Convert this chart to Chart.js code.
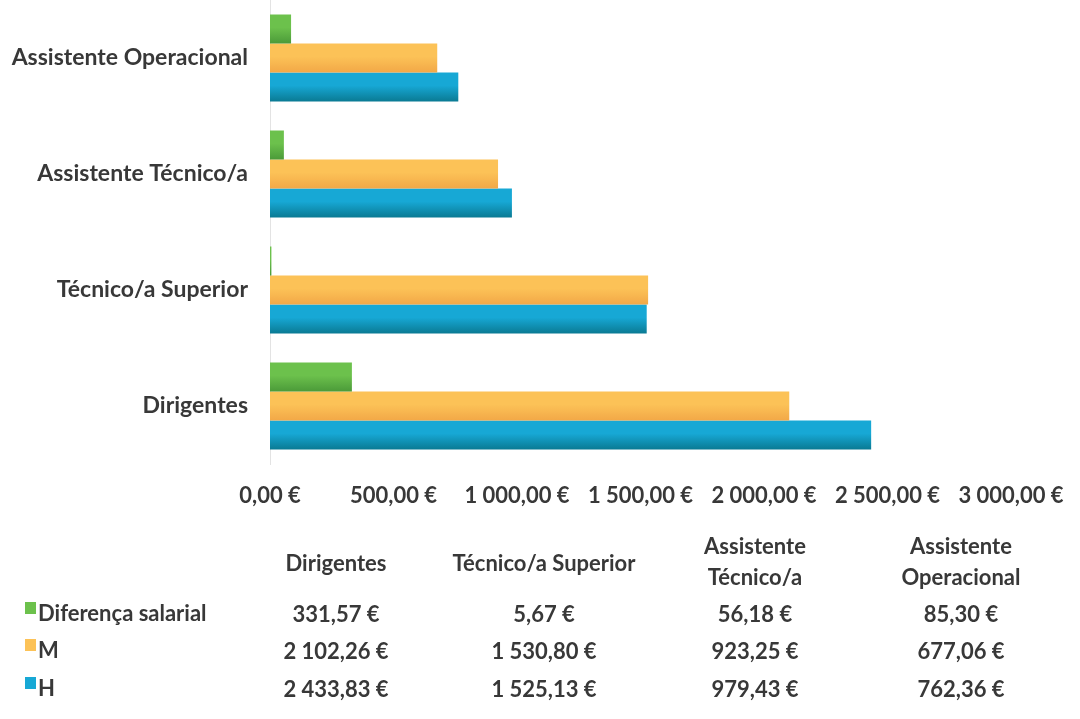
<!DOCTYPE html>
<html lang="pt">
<head>
<meta charset="utf-8">
<title>Remuneração média por carreira</title>
<script src="https://cdn.jsdelivr.net/npm/chart.js@4.4.1/dist/chart.umd.min.js"></script>
<style>
  body { margin: 0; background: #fff; font-family: Lato, "Open Sans", sans-serif; }
  #wrap { position: relative; width: 1080px; height: 719px; }
  #grafico { position: absolute; left: 0; top: 0; }
  #tabela { position: absolute; left: 0; top: 0; width: 1080px; height: 719px; }
  .cel { position: absolute; width: 240px; text-align: center; font-weight: bold;
         font-size: 22px; color: #383838; line-height: 31px; white-space: nowrap; }
  .leg { position: absolute; left: 25px; height: 30px; font-weight: bold; font-size: 22px;
         color: #383838; line-height: 30px; white-space: nowrap; padding-left: 13px; }
  .leg i { position: absolute; left: 0; width: 11px; height: 12px; }
</style>
</head>
<body>
<div id="wrap">
  <canvas id="grafico" width="1080" height="520"></canvas>
  <div id="tabela"></div>
</div>
<script>
// categorias e séries
const categorias = ['Dirigentes', 'Técnico/a Superior', 'Assistente Técnico/a', 'Assistente Operacional'];
const cabecalhos = [['Dirigentes'], ['Técnico/a Superior'], ['Assistente', 'Técnico/a'], ['Assistente', 'Operacional']];
const diferenca = [331.57, 5.67, 56.18, 85.30];
const mulheres = [2102.26, 1530.80, 923.25, 677.06];
const homens = [2433.83, 1525.13, 979.43, 762.36];
const nomesSeries = ['Diferença salarial', 'M', 'H'];
const eixoMin = 0, eixoMax = 3000, eixoPasso = 500;

// cores (topo, base) para o degradê das barras
const cores = [
  ['#6cc14c', '#4b9a39'],
  ['#fcc257', '#f2a847'],
  ['#17a8d5', '#0a7a93']
];

function euros(v) {
  const partes = v.toFixed(2).split('.');
  return partes[0].replace(/\B(?=(\d{3})+(?!\d))/g, ' ') + ',' + partes[1] + ' €';
}

function degrade(par) {
  return function(ctx) {
    const el = ctx.element;
    if (!el || el.y == null || !el.height) return par[0];
    const g = ctx.chart.ctx.createLinearGradient(0, el.y - el.height / 2, 0, el.y + el.height / 2);
    g.addColorStop(0, par[0]);
    g.addColorStop(0.45, par[0]);
    g.addColorStop(1, par[1]);
    return g;
  };
}

const valores = [diferenca, mulheres, homens];

const grafico = new Chart(document.getElementById('grafico'), {
  type: 'bar',
  data: {
    labels: categorias,
    datasets: valores.map((serie, i) => ({
      label: nomesSeries[i],
      data: serie,
      backgroundColor: degrade(cores[i]),
      borderWidth: 0,
      barPercentage: 1.0,
      categoryPercentage: 0.75
    }))
  },
  options: {
    indexAxis: 'y',
    responsive: false,
    animation: false,
    layout: { padding: { left: 0, right: 69, top: 0, bottom: 6 } },
    plugins: { legend: { display: false }, tooltip: { enabled: false } },
    scales: {
      x: {
        min: eixoMin,
        max: eixoMax,
        grid: { display: false, drawTicks: false },
        border: { display: false },
        afterFit: s => { s.height = 50; s.paddingLeft = 0; s.paddingRight = 0; },
        ticks: {
          stepSize: eixoPasso,
          padding: 19,
          maxRotation: 0,
          autoSkip: false,
          color: '#383838',
          font: { family: 'Lato', size: 22, weight: 'bold' },
          callback: v => euros(v)
        }
      },
      y: {
        reverse: true,
        grid: { display: false, drawTicks: false },
        border: { display: true, color: '#e3e3e3' },
        // largura fixa e sem folga extra em cima/baixo
        afterFit: s => { s.width = 270; s.paddingTop = 0; s.paddingBottom = 0; },
        ticks: {
          padding: 22,
          color: '#383838',
          font: { family: 'Lato', size: 23, weight: 'bold' }
        }
      }
    }
  }
});
// segunda passagem para os degradês usarem a geometria das barras
grafico.update();

// tabela de dados por baixo do gráfico
const tabela = document.getElementById('tabela');
const centros = [336, 544, 755, 961];
const linhasY = [613, 650, 688];

cabecalhos.forEach((linhas, j) => {
  const d = document.createElement('div');
  d.className = 'cel';
  d.style.left = (centros[j] - 120) + 'px';
  d.style.top = (linhas.length > 1 ? 530 : 547) + 'px';
  d.innerHTML = linhas.join('<br>');
  tabela.appendChild(d);
});

valores.forEach((serie, i) => {
  const l = document.createElement('div');
  l.className = 'leg';
  l.style.top = (linhasY[i] - 15) + 'px';
  l.innerHTML = '<i style="top:4px;background:' + cores[i][0] + '"></i>';
  l.appendChild(document.createTextNode(nomesSeries[i]));
  tabela.appendChild(l);
  serie.forEach((v, j) => {
    const c = document.createElement('div');
    c.className = 'cel';
    c.style.left = (centros[j] - 120) + 'px';
    c.style.top = (linhasY[i] - 15) + 'px';
    c.textContent = euros(v);
    tabela.appendChild(c);
  });
});
</script>
</body>
</html>
